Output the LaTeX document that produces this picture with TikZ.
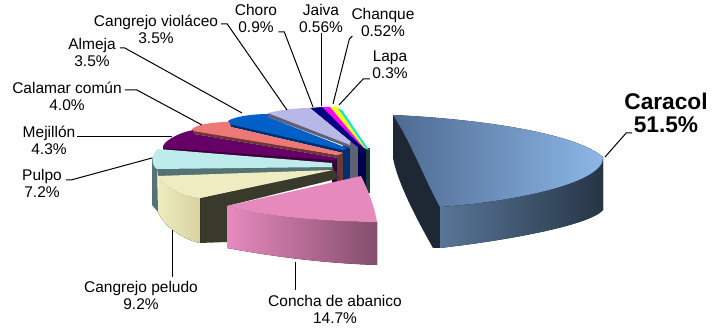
\documentclass[tikz,border=0pt]{standalone}
\usepackage{fontspec}
\setmainfont{Liberation Sans}

\definecolor{caracolLight}{RGB}{141,184,232}
\definecolor{caracolDark}{RGB}{78,106,145}
\definecolor{caracolSide}{RGB}{38,52,68}
\definecolor{caracolSideLight}{RGB}{88,118,152}
\definecolor{caracolLeft}{RGB}{30,40,52}
\definecolor{conchaTop}{RGB}{230,138,190}
\definecolor{conchaDark}{RGB}{132,78,108}
\definecolor{peludoTop}{RGB}{238,236,192}
\definecolor{peludoShade}{RGB}{214,210,160}
\definecolor{peludoCut}{RGB}{58,58,44}
\definecolor{pulpoTop}{RGB}{190,236,236}
\definecolor{pulpoSide}{RGB}{85,115,115}
\definecolor{mejTop}{RGB}{102,0,102}
\definecolor{mejSide}{RGB}{56,0,56}
\definecolor{calTop}{RGB}{238,120,118}
\definecolor{calSide}{RGB}{110,56,50}
\definecolor{almTop}{RGB}{0,96,200}
\definecolor{almSide}{RGB}{0,46,108}
\definecolor{violTop}{RGB}{184,184,232}
\definecolor{violSide}{RGB}{95,95,120}
\definecolor{choroTop}{RGB}{0,0,128}
\definecolor{choroSide}{RGB}{0,0,80}
\definecolor{jaivaTop}{RGB}{255,0,255}
\definecolor{chanqueTop}{RGB}{255,255,0}
\definecolor{lapaTop}{RGB}{0,230,240}
\definecolor{restSide}{RGB}{30,60,50}

\begin{document}
\begin{tikzpicture}[x=1pt, y=-1pt,
  every node/.style={font=\fontsize{15.5}{17.5}\selectfont, align=center, inner sep=0pt, anchor=base},
  leader/.style={draw=black, line width=1pt}
]
\useasboundingbox (0,0) rectangle (713,328);

% side strips at the pie centre
\fill[restSide] (366,148) rectangle (370,193);
\fill[choroSide] (358,145) rectangle (366,188);
\fill[violSide] (350,142) rectangle (358,188);
\fill[almSide] (343,145) rectangle (350,188);
\fill[calSide] (337,153) rectangle (343,188);
\fill[mejSide] (332,158) rectangle (337,188);

% small slices at the back
\fill[lapaTop] (337,108) -- (342,110) -- (369,150) -- (366,149) -- cycle;
\fill[chanqueTop] (330,107) -- (337,107) -- (366,149) -- (364,148) -- cycle;
\fill[jaivaTop] (322,107) -- (330,107) -- (364,148) -- (362,147) -- cycle;
\fill[choroTop] (310,108) -- (322,107) -- (362,147) -- (358,147) -- (350,141) -- cycle;

% cangrejo violaceo, almeja, calamar, mejillon
\fill[violSide] (268,113) -- (350,144) -- (350,148) -- (268,117) -- cycle;
\fill[violTop] (268,113) .. controls (280,110) and (295,108) .. (310,108) -- (350,141) -- (350,145) -- cycle;
\fill[almSide] (229,123) -- (343,149) -- (343,153) -- (231,127) -- cycle;
\fill[almTop] (228,121) .. controls (235,116) and (255,114) .. (268,114) -- (268,117) -- (347,148) -- (343,150) -- (229,124) -- cycle;
\fill[calSide] (193,130) -- (338,155) -- (338,158) -- (194,134) -- cycle;
\fill[calTop] (192,129) .. controls (198,124) and (215,122) .. (229,122) -- (231,127) -- (343,153) -- (338,155) -- (193,131) -- cycle;
\fill[mejSide] (163,147) -- (333,159) -- (333,165) -- (163,153) -- cycle;
\fill[mejTop] (163,146) .. controls (166,140) and (178,133) .. (193,130) -- (194,134) -- (338,158) -- (333,160) -- (163,148) -- cycle;

% pulpo
\fill[pulpoSide] (152,157) -- (157,166) -- (158,212) -- (152,205) -- cycle;
\fill[pulpoSide] (157,167) -- (332,166) -- (334,171) -- (158,177) -- cycle;
\fill[pulpoTop] (158,149) -- (332,163) -- (332,167) -- (157,169) .. controls (151,166) and (151,153) .. (158,149);

% cangrejo peludo
\fill[peludoCut] (200,198) -- (333,169) -- (340,178) -- (227,206) -- (227,242) -- (200,243) -- cycle;
\fill[left color=peludoTop, right color=peludoShade] (158,177) .. controls (165,188) and (185,197) .. (200,198) -- (200,243) .. controls (185,240) and (165,228) .. (158,212) -- cycle;
\fill[peludoTop] (158,176) -- (333,170) -- (200,198) .. controls (185,197) and (165,188) .. (158,177) -- cycle;

% concha de abanico
\fill[left color=conchaTop, right color=conchaDark] (227,206) .. controls (270,218) and (330,221) .. (377,222) -- (377,265) .. controls (320,263) and (270,256) .. (227,248) -- cycle;
\fill[conchaTop] (227,206) -- (361,176) .. controls (368,190) and (374,205) .. (377,222) .. controls (330,221) and (270,218) .. cycle;

% caracol, pulled out to the right
\fill[caracolLeft] (393,115) -- (393,158) .. controls (398,185) and (420,225) .. (433,248) -- (440,248) -- (440,207) .. controls (425,180) and (410,140) .. cycle;
\fill[left color=caracolSideLight, right color=caracolSide] (440,207) .. controls (520,201) and (605,182) .. (603,157) -- (603,210) .. controls (590,225) and (510,240) .. (440,248) -- cycle;
\fill[left color=caracolDark, right color=caracolLight] (393,115) .. controls (480,119) and (575,133) .. (603,157) .. controls (605,182) and (520,201) .. (440,207) .. controls (425,180) and (410,140) .. cycle;

% labels (base = last line)
\node (viol) at (156,44) {Cangrejo violáceo\\3.5\%};
\node (choro) at (256,33) {Choro\\0.9\%};
\node (jaiva) at (321,33) {Jaiva\\0.56\%};
\node (chanque) at (383,37) {Chanque\\0.52\%};
\node (lapa) at (390,79) {Lapa\\0.3\%};
\node (almeja) at (92,67) {Almeja\\3.5\%};
\node (calamar) at (67,111) {Calamar común\\4.0\%};
\node (mej) at (49,155) {Mejillón\\4.3\%};
\node (pulpo) at (42,198) {Pulpo\\7.2\%};
\node (peludo) at (141,310) {Cangrejo peludo\\9.2\%};
\node (concha) at (335,324) {Concha de abanico\\14.7\%};
\node[font=\fontsize{22.7}{23}\selectfont\bfseries] (caracol) at (666,133) {Caracol\\51.5\%};

% leader lines
\coordinate (violTip) at (287,110);
\coordinate (choroTip) at (313,107);
\coordinate (jaivaTip) at (321,106);
\coordinate (chanqueTip) at (333,104);
\coordinate (lapaTip) at (339,105);
\coordinate (almejaTip) at (242,113);
\coordinate (calamarTip) at (202,125);
\coordinate (mejTip) at (172,137);
\coordinate (pulpoTip) at (152,158);
\coordinate (peludoTip) at (172,230);
\coordinate (conchaTip) at (295,262);
\coordinate (caracolTip) at (605,157);
\draw[leader] ([shift={(3,-20)}]viol.base east) -- ++(6,0) -- (violTip);
\draw[leader] ([shift={(1,-1)}]choro.base east) -- ++(6,0) -- (choroTip);
\draw[leader] (jaiva.south) -- (jaiva.south |- jaivaTip);
\draw[leader] ([shift={(1,-1)}]chanque.base west) -- ++(-3,3) -- (chanqueTip);
\draw[leader] ([shift={(-2,0)}]lapa.base west) -- ++(-7,0) -- (lapaTip);
\draw[leader] ([shift={(4,-19)}]almeja.base east) -- ++(5,0) -- (almejaTip);
\draw[leader] ([shift={(3,-21)}]calamar.base east) -- ++(12,0) -- (calamarTip);
\draw[leader] ([shift={(2,-18)}]mej.base east) -- (mejTip);
\draw[leader] ([shift={(4,-18)}]pulpo.base east) -- ++(5,0) -- (pulpoTip);
\draw[leader] (peludoTip) -- ([yshift=4pt]peludoTip |- peludo.north);
\draw[leader] (conchaTip) -- ([yshift=5pt]conchaTip |- concha.north);
\draw[leader] (caracolTip) -- ([shift={(2,0)}]caracol.base west) -- ++(6,0);
\end{tikzpicture}
\end{document}
